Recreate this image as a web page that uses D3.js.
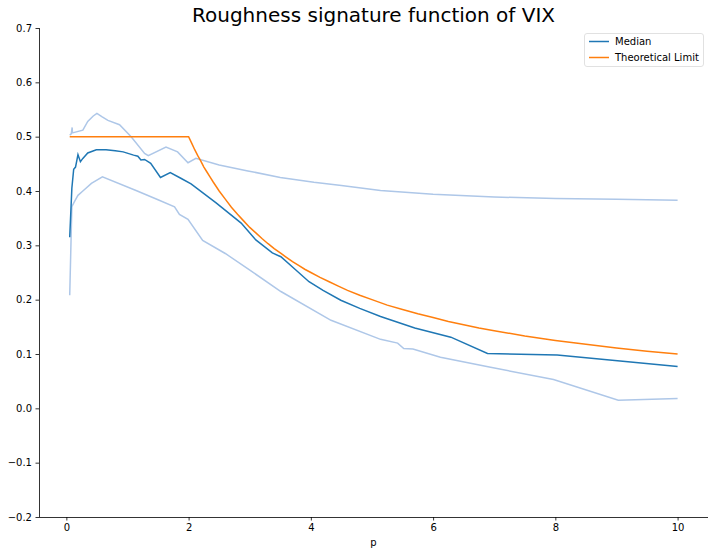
<!DOCTYPE html>
<html><head><meta charset="utf-8">
<script src="https://cdn.jsdelivr.net/npm/d3@7"></script>
<style>body{margin:0;background:#fff}svg{display:block}text{font-family:"DejaVu Sans",sans-serif}</style>
</head><body><svg id="c" width="715" height="555"></svg>
<script>
const xTicks = [0, 2, 4, 6, 8, 10];
const yTicks = [-0.2, -0.1, 0.0, 0.1, 0.2, 0.3, 0.4, 0.5, 0.6, 0.7];
const seriesNames = ["Median", "Theoretical Limit"];

const medianData = [[0.055,0.315],[0.09,0.405],[0.12,0.44],[0.15,0.444],[0.19,0.467],[0.23,0.454],[0.27,0.46],[0.35,0.47],[0.49,0.476],[0.65,0.476],[0.8,0.474],[0.93,0.472],[1.1,0.466],[1.17,0.464],[1.22,0.457],[1.28,0.458],[1.38,0.451],[1.54,0.425],[1.70,0.434],[1.88,0.423],[2.04,0.413],[2.45,0.378],[2.86,0.341],[3.1,0.31],[3.37,0.286],[3.51,0.279],[3.75,0.255],[3.97,0.233],[4.2,0.217],[4.49,0.199],[4.8,0.184],[5.14,0.169],[5.7,0.148],[6.29,0.131],[6.89,0.101],[8.03,0.098],[9.06,0.087],[10,0.077]];

const upperData = [[0.055,0.503],[0.08,0.505],[0.095,0.517],[0.1,0.507],[0.27,0.512],[0.35,0.528],[0.44,0.538],[0.5,0.543],[0.58,0.537],[0.68,0.530],[0.87,0.522],[1.06,0.500],[1.28,0.469],[1.34,0.465],[1.63,0.481],[1.82,0.472],[1.99,0.452],[2.12,0.460],[2.5,0.448],[2.97,0.437],[3.5,0.425],[4.05,0.416],[4.5,0.41],[5.14,0.401],[6,0.394],[7,0.389],[8,0.386],[9,0.385],[10,0.383]];

const lowerData = [[0.055,0.208],[0.09,0.371],[0.13,0.38],[0.19,0.392],[0.27,0.400],[0.41,0.414],[0.59,0.426],[1.14,0.401],[1.5,0.384],[1.77,0.371],[1.85,0.357],[1.99,0.348],[2.23,0.309],[2.6,0.285],[3.02,0.253],[3.51,0.215],[4.33,0.162],[5.14,0.127],[5.42,0.120],[5.52,0.110],[5.67,0.109],[6.12,0.094],[6.94,0.0755],[7.97,0.053],[9.03,0.015],[10,0.018]];

const limitData = [[0.055,0.5],[2.0,0.5],[2.05,0.488],[2.1,0.476],[2.15,0.465],[2.2,0.455],[2.25,0.444],[2.3,0.435],[2.35,0.426],[2.4,0.417],[2.5,0.4],[2.6,0.385],[2.7,0.370],[2.8,0.357],[2.9,0.345],[3.0,0.333],[3.1,0.323],[3.2,0.3125],[3.3,0.303],[3.4,0.294],[3.5,0.286],[3.6,0.278],[3.7,0.270],[3.8,0.263],[3.9,0.256],[4.0,0.25],[4.15,0.241],[4.3,0.233],[4.45,0.225],[4.6,0.217],[4.8,0.208],[5.0,0.2],[5.25,0.190],[5.5,0.182],[5.75,0.174],[6.0,0.167],[6.25,0.160],[6.5,0.154],[6.75,0.148],[7.0,0.143],[7.5,0.133],[8.0,0.125],[8.5,0.118],[9.0,0.111],[9.5,0.105],[10,0.1]];

const svg = d3.select("#c");
const L = 39, R = 708, T = 28, B = 517;
const x = d3.scaleLinear().domain([-0.4475, 10.4975]).range([L, R]);
const y = d3.scaleLinear().domain([-0.2, 0.7]).range([B, T]);
const fmt = v => d3.format(".1f")(v).replace("-", "\u2212");

const line = d3.line().x(d => x(d[0])).y(d => y(d[1]));
const g = svg.append("g");
g.append("path").datum(upperData).attr("d", line).attr("fill","none").attr("stroke","#aec7e8").attr("stroke-width",1.5);
g.append("path").datum(lowerData).attr("d", line).attr("fill","none").attr("stroke","#aec7e8").attr("stroke-width",1.5);
g.append("path").datum(medianData).attr("d", line).attr("fill","none").attr("stroke","#1f77b4").attr("stroke-width",1.5);
g.append("path").datum(limitData).attr("d", line).attr("fill","none").attr("stroke","#ff7f0e").attr("stroke-width",1.5);

const xa = svg.append("g").attr("transform", `translate(0,${B})`)
  .call(d3.axisBottom(x).tickValues(xTicks).tickFormat(d3.format("d")).tickSize(3.5).tickPadding(3.5));
const ya = svg.append("g").attr("transform", `translate(${L},0)`)
  .call(d3.axisLeft(y).tickValues(yTicks).tickFormat(fmt).tickSize(3.5).tickPadding(3.5));
[xa, ya].forEach(a => {
  a.select(".domain").attr("stroke","#000").attr("stroke-width",0.8);
  a.selectAll(".tick line").attr("stroke","#000").attr("stroke-width",0.8);
  a.selectAll("text").attr("font-size",10).attr("fill","#000").style("font-family","DejaVu Sans");
});
xa.select(".domain").attr("d", `M${L},0.5H${R}`);
ya.select(".domain").attr("d", `M0.5,${B}V${T}`);

svg.append("text").attr("x",(L+R)/2).attr("y",546).attr("text-anchor","middle").attr("font-size",10).text("p");
svg.append("text").attr("x",(L+R)/2).attr("y",22).attr("text-anchor","middle").attr("font-size",20).text("Roughness signature function of VIX");

const lg = svg.append("g").attr("transform","translate(584,33)");
lg.append("rect").attr("x",0.5).attr("y",0.5).attr("width",119).attr("height",33).attr("rx",2.5)
  .attr("fill","#fff").attr("fill-opacity",0.8).attr("stroke","#d9d9d9").attr("stroke-width",0.8);
const colors = ["#1f77b4","#ff7f0e"];
seriesNames.forEach((n,i) => {
  const yy = 8.5 + i*16;
  lg.append("line").attr("x1",5).attr("x2",25).attr("y1",yy).attr("y2",yy).attr("stroke",colors[i]).attr("stroke-width",1.5);
  lg.append("text").attr("x",31).attr("y",yy+3.5).attr("font-size",10).text(n);
});
</script></body></html>
